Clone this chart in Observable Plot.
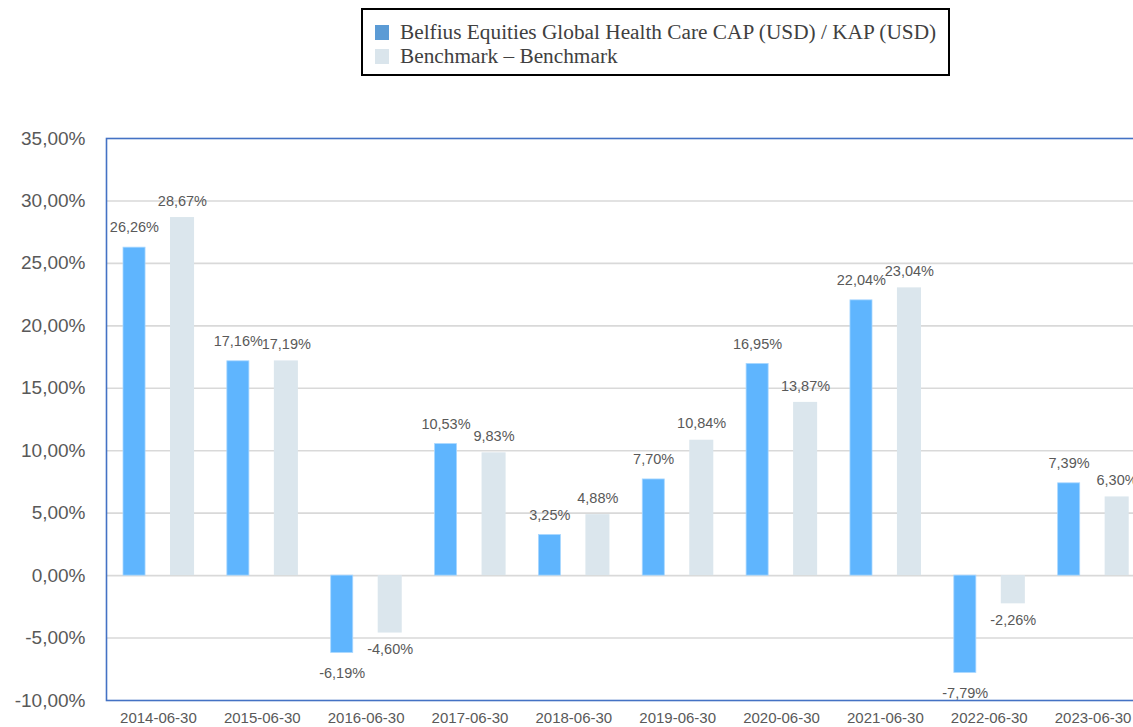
<!DOCTYPE html>
<html><head><meta charset="utf-8">
<script src="https://cdn.jsdelivr.net/npm/d3@7"></script>
<script src="https://cdn.jsdelivr.net/npm/@observablehq/plot@0.6"></script>
<style>
body{margin:0;background:#fff;overflow:hidden;}
#legend{position:relative;height:90px;width:1133px;}
.box{position:absolute;left:361px;top:8px;width:589px;height:68px;box-sizing:border-box;border:2px solid #000;font-family:"Liberation Serif","Times New Roman",serif;font-size:21.3px;color:#404040;}
.item{position:absolute;left:12px;display:flex;align-items:center;line-height:22px;white-space:nowrap;}
.sw{display:inline-block;width:14px;height:15px;margin-right:11px;}
#chart svg{display:block;}
</style></head>
<body>
<div id="legend"><div class="box" id="box"></div></div>
<div id="chart"></div>
<script>
const dates = ["2014-06-30","2015-06-30","2016-06-30","2017-06-30","2018-06-30","2019-06-30","2020-06-30","2021-06-30","2022-06-30","2023-06-30"];
const fund  = [26.26, 17.16, -6.19, 10.53, 3.25, 7.70, 16.95, 22.04, -7.79, 7.39];
const bench = [28.67, 17.19, -4.60, 9.83, 4.88, 10.84, 13.87, 23.04, -2.26, 6.30];
const seriesNames = ["Belfius Equities Global Health Care CAP (USD) / KAP (USD)", "Benchmark \u2013 Benchmark"];
const yTicks = [35, 30, 25, 20, 15, 10, 5, 0, -5, -10];
const gridLines = [30, 25, 20, 15, 10, 5, 0, -5];

const legendColors = ["#5b9bd5", "#dae5ec"];
const box = document.getElementById("box");
seriesNames.forEach((name, i) => {
  const it = document.createElement("div");
  it.className = "item";
  it.style.top = (i === 0 ? 11 : 35) + "px";
  const sw = document.createElement("span");
  sw.className = "sw";
  sw.style.background = legendColors[i];
  it.appendChild(sw);
  it.appendChild(document.createTextNode(name));
  box.appendChild(it);
});

const rows = dates.map((d, i) => ({date: d, fund: fund[i], bench: bench[i]}));
const fmt = v => v.toFixed(2).replace(".", ",") + "%";
const txt = "#595959";
const font = "'Liberation Sans', Arial, sans-serif";

function labels(key, dx, off) {
  const common = {x: "date", y: key, text: d => fmt(d[key]), dx, fill: txt, fontSize: 14.5, fontFamily: font, textAnchor: "middle", lineAnchor: "middle"};
  return [
    Plot.text(rows.filter(d => d[key] >= 0), {...common, dy: -off}),
    Plot.text(rows.filter(d => d[key] < 0), {...common, dy: off})
  ];
}

const chart = Plot.plot({
  width: 1133,
  height: 637,
  marginLeft: 106,
  marginRight: -10,
  marginTop: 48,
  marginBottom: 27,
  style: {fontFamily: font, color: txt, background: "#fff"},
  x: {type: "band", domain: dates, padding: 0, round: false, range: [106, 1144.5], label: null},
  y: {domain: [-10, 35], label: null},
  marks: [
    Plot.ruleY(gridLines, {stroke: "#d9d9d9", strokeWidth: 1.6}),
    Plot.barY(rows, {x: "date", y: "fund", fill: "#5fb5fe", stroke: "#a9d7ff", strokeWidth: 0.8, insetLeft: 17, insetRight: 64.8}),
    Plot.barY(rows, {x: "date", y: "bench", fill: "#dbe6ed", insetLeft: 64, insetRight: 15.8}),
    ...labels("fund", -24, 20),
    ...labels("bench", 24, 16.5),
    Plot.axisY({ticks: yTicks, tickFormat: fmt, tickSize: 0, tickPadding: 21, fontSize: 19, fill: txt, label: null}),
    Plot.axisX({tickSize: 0, tickPadding: 12, fontSize: 15, fill: txt, label: null}),
    Plot.frame({stroke: "#4472c4", strokeWidth: 1.6})
  ]
});
document.getElementById("chart").appendChild(chart);
</script>
</body></html>
